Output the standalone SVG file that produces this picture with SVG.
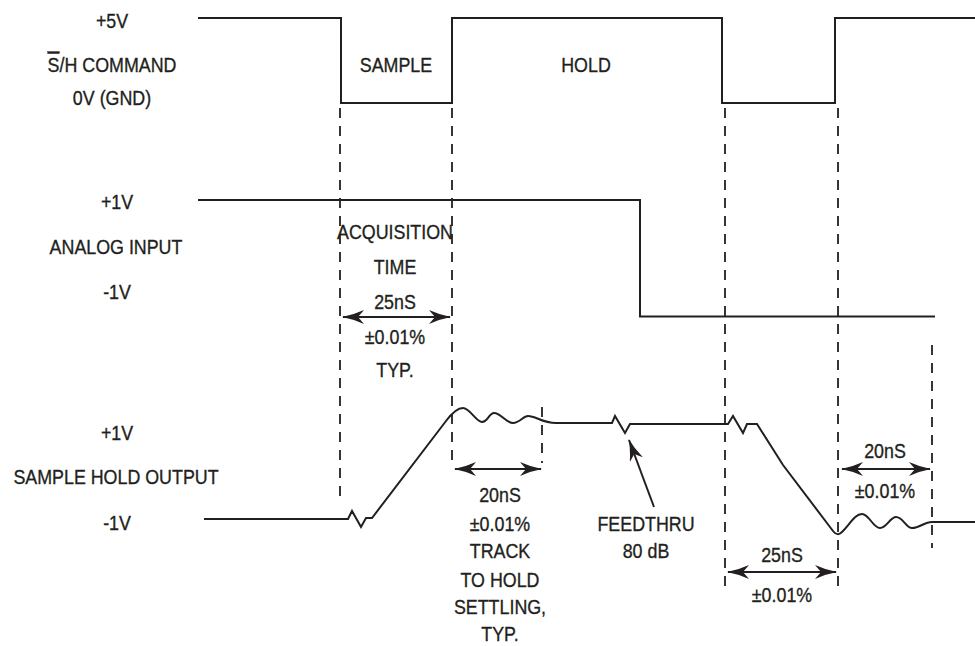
<svg xmlns="http://www.w3.org/2000/svg" width="975" height="646" viewBox="0 0 975 646">
<style>
text{font-family:"Liberation Sans",Arial,sans-serif;font-size:21px;fill:#231f20;stroke:#231f20;stroke-width:0.35;text-anchor:middle}
.wave{fill:none;stroke:#231f20;stroke-width:2;stroke-linejoin:miter}
.dash{fill:none;stroke:#231f20;stroke-width:1.8;stroke-dasharray:10 8}
.arr{fill:none;stroke:#231f20;stroke-width:2}
</style>
<defs>
<marker id="ah" viewBox="0 0 22 14" refX="21" refY="7" markerWidth="22" markerHeight="14" markerUnits="userSpaceOnUse" orient="auto-start-reverse">
<path d="M0,0 Q11,5 22,7 Q11,9 0,14 L6,7 Z" fill="#231f20"/>
</marker>
</defs>
<rect width="975" height="646" fill="#ffffff"/>
<g id="labels">
<text transform="translate(112,28) scale(0.85,1)">+5V</text>
<text transform="translate(112,72) scale(0.85,1)"><tspan style="text-decoration:overline">S</tspan>/H COMMAND</text>
<text transform="translate(112,105) scale(0.85,1)">0V (GND)</text>
<text transform="translate(396,72) scale(0.85,1)">SAMPLE</text>
<text transform="translate(586,72) scale(0.85,1)">HOLD</text>
<text transform="translate(117,209) scale(0.85,1)">+1V</text>
<text transform="translate(116,254) scale(0.85,1)">ANALOG INPUT</text>
<text transform="translate(117,299) scale(0.85,1)">-1V</text>
<text transform="translate(117,440) scale(0.85,1)">+1V</text>
<text transform="translate(116,484) scale(0.85,1)">SAMPLE HOLD OUTPUT</text>
<text transform="translate(117,530) scale(0.85,1)">-1V</text>
</g>
<g id="sh-command">
<path class="wave" d="M198,18 H341 V103 H452 V18 H722 V103 H835 V18 H975"/>
</g>
<g id="analog-input">
<path class="wave" d="M198,200 H640 V316.5 H935"/>
</g>
<g id="sample-hold-output">
<path class="wave" d="M204,519 H348 L352,511 L361,527 L366,518 H372 L446,421 C452,413 457,408 463,408 C470,408 476,422 482,422 C488,422 489,413 494,413 C501,413 506,423 513,423 C520,423 523,416 528,416 C536,416 542,423 556,423 H612 L615,416 L625,433 L630,424 H728 L733,416 L743,433 L747,424 H757 L783,465 L833,531 C836,535 839,535 842,532 C850,524 855,514 862,514 C869,514 873,528 880,528 C887,528 890,517 896,517 C903,517 906,528 912,528 C920,528 924,522 932,522 H975"/>
</g>
<g id="connectors">
<path class="dash" d="M340,108 V503"/>
<path class="dash" d="M452,108 V461"/>
<path class="dash" d="M542,407 V463"/>
<path class="dash" d="M725,108 V588"/>
<path class="dash" d="M838,108 V588"/>
<path class="dash" d="M932,345 V548"/>
<line class="arr" x1="343" y1="317" x2="450" y2="317" marker-start="url(#ah)" marker-end="url(#ah)"/>
<line class="arr" x1="455" y1="469" x2="541" y2="469" marker-start="url(#ah)" marker-end="url(#ah)"/>
<line class="arr" x1="728" y1="572" x2="836" y2="572" marker-start="url(#ah)" marker-end="url(#ah)"/>
<line class="arr" x1="842" y1="469" x2="930" y2="469" marker-start="url(#ah)" marker-end="url(#ah)"/>
<line class="arr" x1="654" y1="507" x2="629" y2="440" marker-end="url(#ah)"/>
</g>
<g id="annotations">
<text transform="translate(395,239) scale(0.85,1)">ACQUISITION</text>
<text transform="translate(395,274) scale(0.85,1)">TIME</text>
<text transform="translate(395,309) scale(0.85,1)">25nS</text>
<text transform="translate(395,344) scale(0.85,1)">±0.01%</text>
<text transform="translate(395,377) scale(0.85,1)">TYP.</text>
<text transform="translate(500,502) scale(0.85,1)">20nS</text>
<text transform="translate(500,531) scale(0.85,1)">±0.01%</text>
<text transform="translate(500,558) scale(0.85,1)">TRACK</text>
<text transform="translate(500,587) scale(0.85,1)">TO HOLD</text>
<text transform="translate(500,614) scale(0.85,1)">SETTLING,</text>
<text transform="translate(500,641) scale(0.85,1)">TYP.</text>
<text transform="translate(646,531) scale(0.85,1)">FEEDTHRU</text>
<text transform="translate(646,558) scale(0.85,1)">80 dB</text>
<text transform="translate(885,458) scale(0.85,1)">20nS</text>
<text transform="translate(885,498) scale(0.85,1)">±0.01%</text>
<text transform="translate(782,562) scale(0.85,1)">25nS</text>
<text transform="translate(782,602) scale(0.85,1)">±0.01%</text>
</g>
</svg>
